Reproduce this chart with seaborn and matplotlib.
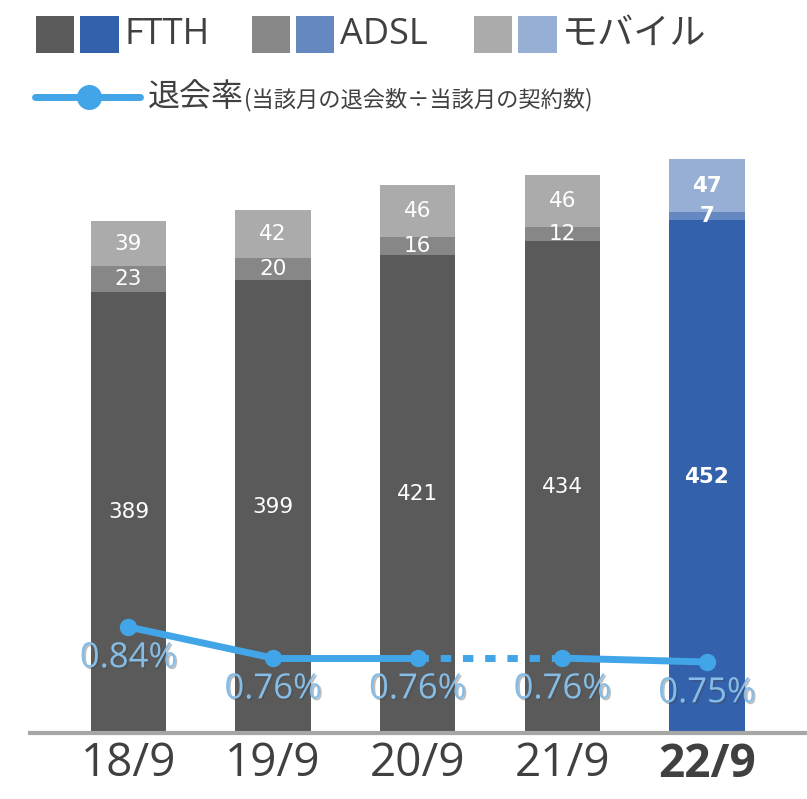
import matplotlib
matplotlib.use("Agg")
import matplotlib.pyplot as plt
import seaborn as sns
import pandas as pd
import matplotlib.patheffects as pe
from matplotlib.patches import Rectangle
from matplotlib.lines import Line2D

# ---- data ----
periods = ["18/9", "19/9", "20/9", "21/9", "22/9"]
ftth = [389, 399, 421, 434, 452]
adsl = [23, 20, 16, 12, 7]
mobile = [39, 42, 46, 46, 47]
churn = [0.84, 0.76, 0.76, 0.76, 0.75]
churn_labels = ["0.84%", "0.76%", "0.76%", "0.76%", "0.75%"]
segment_styles = ["solid", "solid", "dotted", "solid"]

# ---- colours ----
ftth_pal = ["#5A5A5A"] * 4 + ["#3461AB"]
adsl_pal = ["#878787"] * 4 + ["#6688C0"]
mob_pal = ["#ABABAB"] * 4 + ["#97AFD5"]
line_col = "#41A5E8"
label_col = "#86BDE6"
text_col = "#404040"

sns.set_theme(style="white")
plt.rcParams['font.family'] = ['Open Sans', 'Noto Sans CJK JP', 'DejaVu Sans']

W, H = 807, 799
fig = plt.figure(figsize=(W / 100, H / 100), dpi=100)


def px(x0, y0, x1, y1):
    return [x0 / W, 1 - y1 / H, (x1 - x0) / W, (y1 - y0) / H]


ax = fig.add_axes(px(30, 150, 807, 733))

df = pd.DataFrame(dict(period=periods, ftth=ftth, adsl=adsl, mobile=mobile))
df["fa"] = df["ftth"] + df["adsl"]
df["total"] = df["fa"] + df["mobile"]

for col, pal in [("total", mob_pal), ("fa", adsl_pal), ("ftth", ftth_pal)]:
    sns.barplot(data=df, x="period", y=col, hue="period", palette=pal,
                legend=False, width=0.52, saturation=1, linewidth=0, ax=ax)

for i in range(len(periods)):
    bold = "bold" if i == len(periods) - 1 else "normal"
    segs = [(0, ftth[i]), (ftth[i], adsl[i]), (ftth[i] + adsl[i], mobile[i])]
    for bottom, val in segs:
        ax.text(i, bottom + val / 2, str(val), ha="center", va="center",
                color="white", fontsize=15.5, fontweight=bold,
                family="DejaVu Sans")

ax.set_ylim(0, 514)
ax.set_xlim(-0.681, 4.692)
ax.set_xlabel("")
ax.set_ylabel("")
ax.set_yticks([])
for s in ["top", "left", "right"]:
    ax.spines[s].set_visible(False)
ax.spines["bottom"].set_color("#A6A6A6")
ax.spines["bottom"].set_linewidth(3)
ax.tick_params(axis="x", length=0, pad=6, labelsize=33, labelcolor=text_col)
ax.get_xticklabels()[-1].set_fontweight("bold")

# ---- churn line ----
ax2 = ax.twinx()
ax2.set_ylim(0.5675, 2.066)
for i, ls in enumerate(segment_styles):
    if ls == "dotted":
        ax2.plot([i, i + 1], churn[i:i + 2], color=line_col, lw=5,
                 linestyle=(0, (1.5, 1.7)), dash_capstyle="butt")
    else:
        ax2.plot([i, i + 1], churn[i:i + 2], color=line_col, lw=5,
                 solid_capstyle="round")
ax2.plot(range(len(churn)), churn, "o", color=line_col, ms=11.5, zorder=5)
for i, (v, lab) in enumerate(zip(churn, churn_labels)):
    ax2.annotate(lab, (i, v), xytext=(0, -22.5), textcoords="offset points",
                 ha="center", va="center", fontsize=25, color=label_col,
                 path_effects=[pe.SimplePatchShadow(offset=(1.2, -1.2),
                                                    shadow_rgbFace="#444444",
                                                    alpha=0.35),
                               pe.Normal()])
ax2.set_yticks([])
for s in ["top", "left", "right", "bottom"]:
    ax2.spines[s].set_visible(False)
ax2.set_xlim(-0.681, 4.692)

# ---- legend ----
def frect(x0, y0, x1, y1, color):
    fig.add_artist(Rectangle((x0 / W, 1 - y1 / H), (x1 - x0) / W, (y1 - y0) / H,
                             transform=fig.transFigure, color=color, lw=0))


entries = [
    (36, 74, 80, 119, 124, "FTTH", ftth_pal),
    (252, 290, 296, 334, 340, "ADSL", adsl_pal),
    (474, 512, 518, 557, 562, "モバイル", mob_pal),
]
for g0, g1, b0, b1, tx, lab, pal in entries:
    frect(g0, 16, g1, 53, pal[0])
    frect(b0, 16, b1, 53, pal[-1])
    fig.text(tx / W, 1 - 35 / H, lab, ha="left", va="center",
             fontsize=26, color=text_col)

fig.add_artist(Line2D([35 / W, 140 / W], [1 - 97 / H] * 2, lw=5, color=line_col,
                      transform=fig.transFigure))
fig.add_artist(Line2D([89 / W], [1 - 97 / H], marker="o", ms=17, color=line_col,
                      transform=fig.transFigure))
fig.text(148 / W, 1 - 97 / H, "退会率", ha="left", va="center", fontsize=23,
         color=text_col, family=['Noto Sans CJK JP', 'DejaVu Sans'])
fig.text(244 / W, 1 - 100 / H, "(当該月の退会数÷当該月の契約数)", ha="left",
         va="center", fontsize=16, color=text_col,
         family=['Noto Sans CJK JP', 'DejaVu Sans'])

fig.savefig("out.png", dpi=100)
